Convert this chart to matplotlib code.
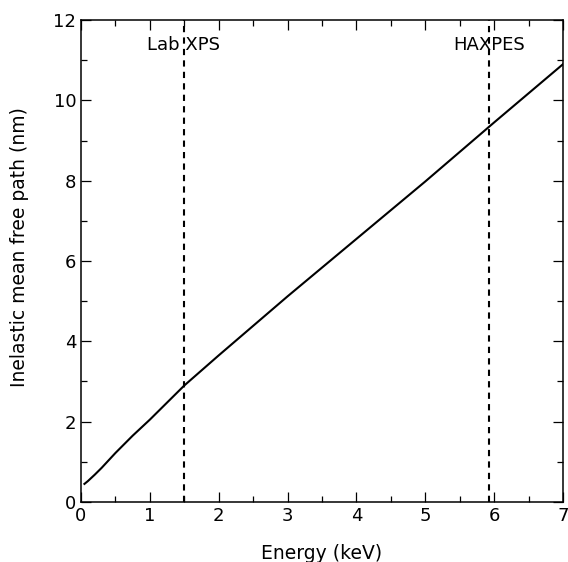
import numpy as np
import matplotlib.pyplot as plt
from matplotlib.ticker import MultipleLocator

# energy (keV) vs inelastic mean free path (nm)
energy = [0.05, 0.1, 0.2, 0.3, 0.5, 0.75, 1.0, 1.5, 2.0, 3.0, 4.0, 5.0, 6.0, 7.0]
imfp = [0.45, 0.52, 0.68, 0.85, 1.22, 1.65, 2.05, 2.9, 3.65, 5.12, 6.55, 7.98, 9.45, 10.9]

lines_x = [1.49, 5.93]
line_labels = ['Lab XPS', 'HAXPES']

fig = plt.figure(figsize=(5.68, 5.62), dpi=100)
ax = fig.add_axes([0.1426, 0.1068, 0.8486, 0.8576])

ax.plot(energy, imfp, color='black', lw=1.5)
for xv, lab in zip(lines_x, line_labels):
    ax.axvline(xv, color='black', lw=1.5, ls=(0, (3, 2.5)))
    ax.text(xv, 11.38, lab, ha='center', va='center', fontsize=13)

ax.set_xlim(0, 7)
ax.set_ylim(0, 12)
ax.xaxis.set_major_locator(MultipleLocator(1))
ax.xaxis.set_minor_locator(MultipleLocator(0.5))
ax.yaxis.set_major_locator(MultipleLocator(2))
ax.yaxis.set_minor_locator(MultipleLocator(1))
ax.tick_params(which='both', direction='in', top=True, right=True, labelsize=13, width=0.9)
ax.tick_params(which='major', length=7.5)
ax.tick_params(which='minor', length=4)
for s in ax.spines.values():
    s.set_linewidth(1.1)

ax.set_xlabel('Energy (keV)', fontsize=13.5)
ax.set_ylabel('Inelastic mean free path (nm)', fontsize=13.5, va='center')
ax.xaxis.set_label_coords(0.5, -0.087)
ax.yaxis.set_label_coords(-0.128, 0.529)

plt.savefig('out.png', dpi=100)
